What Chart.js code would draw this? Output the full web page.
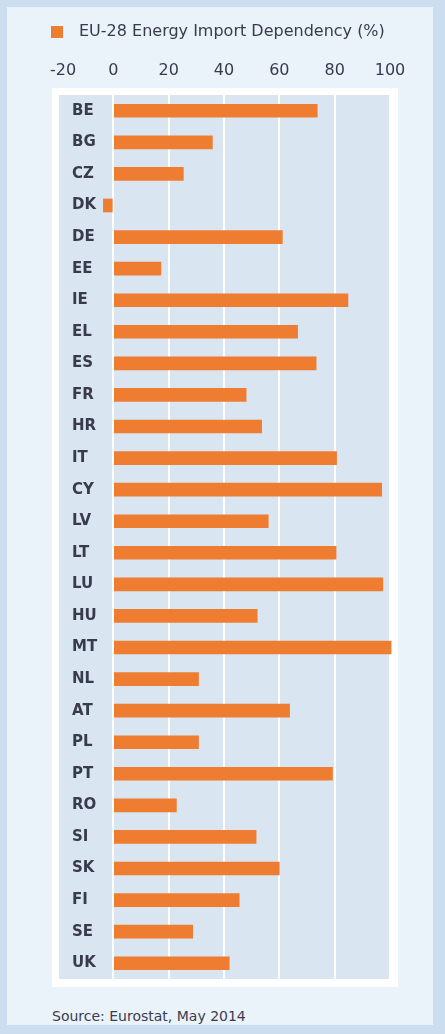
<!DOCTYPE html>
<html>
<head>
<meta charset="utf-8">
<script src="https://cdn.jsdelivr.net/npm/chart.js@4/dist/chart.umd.min.js"></script>
<style>
html,body{margin:0;padding:0;}
body{width:445px;height:1034px;background:#cbddee;position:relative;overflow:hidden;font-family:"DejaVu Sans",sans-serif;}
#panel{position:absolute;left:7px;top:7px;width:426px;height:1018px;background:#eaf2fa;}
#frame{position:absolute;left:52px;top:88px;width:346px;height:899px;background:#ffffff;}
#src{position:absolute;left:52px;top:1008px;font-size:14px;line-height:16px;color:#3c3c50;white-space:nowrap;}
#c{position:absolute;left:0;top:0;}
</style>
</head>
<body>
<div id="panel"></div>
<div id="frame"></div>
<div id="src">Source: Eurostat, May 2014</div>
<canvas id="c" width="445" height="1034"></canvas>
<script>
const seriesLabel = 'EU-28 Energy Import Dependency (%)';
const categories = ['BE','BG','CZ','DK','DE','EE','IE','EL','ES','FR','HR','IT','CY','LV','LT','LU','HU','MT','NL','AT','PL','PT','RO','SI','SK','FI','SE','UK'];
const importDependency = [73.7, 35.8, 25.3, -3.6, 61.1, 17.2, 84.8, 66.6, 73.3, 48.0, 53.6, 80.7, 97.0, 56.0, 80.5, 97.4, 52.0, 100.4, 30.8, 63.7, 30.8, 79.2, 22.8, 51.6, 60.0, 45.5, 28.7, 41.9];
const xTickValues = [-20, 0, 20, 40, 60, 80, 100];

const barColor = '#ef7d31';
const textColor = '#3a3a4e';

// legend swatch image (12x12 square)
const swatch = document.createElement('canvas');
swatch.width = 12; swatch.height = 12;
const sctx = swatch.getContext('2d');
sctx.fillStyle = barColor; sctx.fillRect(0, 0, 12, 12);

const plotBg = {
  id: 'plotBg',
  beforeDraw(chart) {
    const {ctx, chartArea: a} = chart;
    ctx.save();
    ctx.fillStyle = '#d9e6f1';
    ctx.fillRect(a.left, a.top, a.right - a.left, a.bottom - a.top);
    ctx.restore();
  }
};

new Chart(document.getElementById('c'), {
  type: 'bar',
  data: {
    labels: categories,
    datasets: [{
      label: seriesLabel,
      data: importDependency,
      backgroundColor: barColor,
      borderWidth: 0,
      barThickness: 13,
      clip: false,
      pointStyle: swatch
    }]
  },
  options: {
    indexAxis: 'y',
    responsive: false,
    devicePixelRatio: 1,
    animation: false,
    layout: { padding: { left: 32, right: 55, top: 14, bottom: 55 } },
    plugins: {
      tooltip: { enabled: false },
      legend: {
        position: 'top',
        align: 'start',
        labels: {
          usePointStyle: true,
          pointStyleWidth: 29,
          padding: 10,
          color: textColor,
          font: { family: 'DejaVu Sans', size: 16 }
        }
      }
    },
    scales: {
      x: {
        position: 'top',
        min: -20,
        max: 100,
        afterBuildTicks(scale) { scale.ticks = xTickValues.map(v => ({ value: v })); },
        afterFit(scale) { scale.height = 45; },
        grid: { color: '#ffffff', lineWidth: 2, drawTicks: false },
        border: { display: false },
        ticks: {
          padding: 15,
          color: textColor,
          font: { family: 'DejaVu Sans', size: 16 },
          callback: (v) => (v === -20 ? '  -20' : String(v))
        }
      },
      y: {
        position: 'left',
        afterFit(scale) { scale.width = 26; },
        grid: { display: false },
        border: { display: false },
        ticks: {
          mirror: true,
          padding: 14,
          color: textColor,
          font: { family: 'DejaVu Sans', size: 15, weight: 'bold' }
        }
      }
    }
  },
  plugins: [plotBg]
});
</script>
</body>
</html>
